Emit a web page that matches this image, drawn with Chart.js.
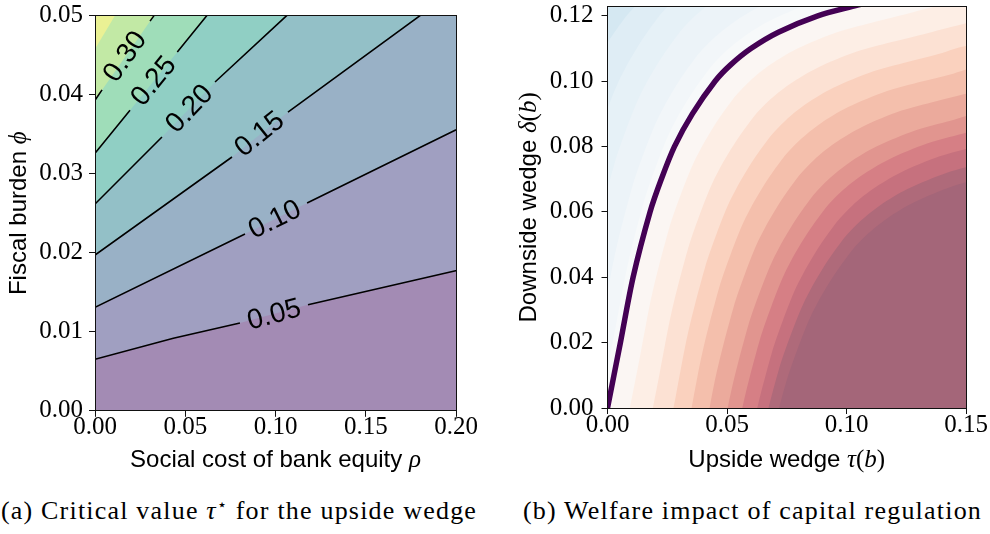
<!DOCTYPE html>
<html><head><meta charset="utf-8">
<script src="https://cdn.jsdelivr.net/npm/chart.js@4.4.1/dist/chart.umd.min.js"></script>
<style>
html,body{margin:0;padding:0;background:#fff;width:990px;height:534px;overflow:hidden;}
#ca{position:absolute;left:0;top:0;}
#cb{position:absolute;left:495px;top:0;}
.cap{position:absolute;top:495px;font-family:'Liberation Serif','DejaVu Serif',serif;font-size:26px;letter-spacing:1.2px;white-space:nowrap;color:#000;line-height:32px;text-align:center;}
.cap sup{font-size:0.6em;vertical-align:0.6em;line-height:0;}
#capA{left:0;width:478px;}
#capB{left:522px;width:461px;}
</style></head><body>
<canvas id="ca" width="490" height="480"></canvas>
<canvas id="cb" width="495" height="480"></canvas>
<div class="cap" id="capA">(a) Critical value <i>τ</i><sup>⋆</sup> for the upside wedge</div>
<div class="cap" id="capB">(b) Welfare impact of capital regulation</div>
<script>
// ---------------- Panel (a) data ----------------
const aXTicks = [0, 0.05, 0.10, 0.15, 0.20];
const aXTickLabels = ['0.00', '0.05', '0.10', '0.15', '0.20'];
const aYTicks = [0, 0.01, 0.02, 0.03, 0.04, 0.05];
const aYTickLabels = ['0.00', '0.01', '0.02', '0.03', '0.04', '0.05'];
const aLevelLabels = ['0.05', '0.10', '0.15', '0.20', '0.25', '0.30'];
// contour lines of tau* (rho, phi); null = gap where the inline label sits
const aLineRho = [
  [-0.005, 0, 0.0434, 0.0803, null, 0.1180, 0.1998, 0.205],
  [-0.005, 0, 0.0831, null, 0.1175, 0.1998, 0.205],
  [-0.005, 0, 0.0759, null, 0.1069, 0.1801, 0.1861],
  [-0.005, 0, 0.0371, null, 0.0665, 0.1062, 0.111],
  [-0.005, 0, 0.0194, null, 0.0456, 0.0620, 0.0656],
  [-0.005, 0, 0.0039, null, 0.0305, 0.0327, 0.0358]
];
const aLinePhi = [
  [0.00621, 0.00652, 0.00918, 0.01111, null, 0.01341, 0.01773, 0.0180],
  [0.01253, 0.01309, 0.02237, null, 0.02629, 0.03553, 0.0361],
  [0.01889, 0.01971, 0.03211, null, 0.0378, 0.05, 0.051],
  [0.02502, 0.02616, 0.03464, null, 0.0416, 0.05, 0.051],
  [0.03118, 0.03258, 0.03802, null, 0.04539, 0.05, 0.051],
  [0.03767, 0.0393, 0.0406, null, 0.0493, 0.05, 0.051]
];
// 0.35 level (filled boundary only, no line)
const aTopRho = [-0.005, 0, 0.0111, 0.0137];
const aTopPhi = [0.0439, 0.04578, 0.05, 0.051];
// inline label anchors
const aLabelRho = [0.0992, 0.0995, 0.0910, 0.0522, 0.0323, 0.0165];
const aLabelPhi = [0.01222, 0.02425, 0.03505, 0.03825, 0.04175, 0.04485];

// ---------------- Panel (b) data ----------------
const bXTicks = [0, 0.05, 0.10, 0.15];
const bXTickLabels = ['0.00', '0.05', '0.10', '0.15'];
const bYTicks = [0, 0.02, 0.04, 0.06, 0.08, 0.10, 0.12];
const bYTickLabels = ['0.00', '0.02', '0.04', '0.06', '0.08', '0.10', '0.12'];
// normalised welfare level (colormap position) of each boundary, 0.5 = zero welfare
const bLevels = [0.375, 0.40, 0.425, 0.45, 0.475, 0.50, 0.55, 0.60, 0.65, 0.70, 0.75, 0.80, 0.85, 0.90, 0.95, 1.00];
const bLevelTau = [
  [-0.0192, -0.0145, -0.009, -0.0015, 0.008, 0.0145, 0.023],
  [-0.0126, -0.0055, -0.0008, 0.0047, 0.0122, 0.0217, 0.0282, 0.0367],
  [-0.0094, -0.0041, 0.003, 0.0077, 0.0132, 0.0207, 0.0302, 0.0367, 0.0452, 0.0567],
  [-0.0073, -0.0019, 0.0034, 0.0105, 0.0152, 0.0207, 0.0282, 0.0377, 0.0442, 0.0527, 0.0642, 0.0807],
  [-0.0022, 0.0032, 0.0085, 0.0156, 0.0203, 0.0258, 0.0333, 0.0428, 0.0493, 0.0578, 0.0693, 0.0858, 0.1003],
  [0, 0.0054, 0.0107, 0.0178, 0.0225, 0.028, 0.0355, 0.045, 0.0515, 0.060, 0.0715, 0.088, 0.1025, 0.114, 0.13],
  [0.008, 0.0134, 0.0187, 0.0258, 0.0305, 0.036, 0.0435, 0.053, 0.0595, 0.068, 0.0795, 0.096, 0.1105, 0.122, 0.138, 0.163],
  [0.016, 0.0214, 0.0267, 0.0338, 0.0385, 0.044, 0.0515, 0.061, 0.0675, 0.076, 0.0875, 0.104, 0.1185, 0.130, 0.146, 0.171],
  [0.023, 0.0284, 0.0337, 0.0408, 0.0455, 0.051, 0.0585, 0.068, 0.0745, 0.083, 0.0945, 0.111, 0.1255, 0.137, 0.153],
  [0.029, 0.0344, 0.0397, 0.0468, 0.0515, 0.057, 0.0645, 0.074, 0.0805, 0.089, 0.1005, 0.117, 0.1315, 0.143, 0.159],
  [0.035, 0.0404, 0.0457, 0.0528, 0.0575, 0.063, 0.0705, 0.080, 0.0865, 0.095, 0.1065, 0.123, 0.1375, 0.149, 0.165],
  [0.041, 0.0464, 0.0517, 0.0588, 0.0635, 0.069, 0.0765, 0.086, 0.0925, 0.101, 0.1125, 0.129, 0.1435, 0.155],
  [0.046, 0.0514, 0.0567, 0.0638, 0.0685, 0.074, 0.0815, 0.091, 0.0975, 0.106, 0.1175, 0.134, 0.1485, 0.160],
  [0.051, 0.0564, 0.0617, 0.0688, 0.0735, 0.079, 0.0865, 0.096, 0.1025, 0.111, 0.1225, 0.139, 0.1535, 0.165],
  [0.054, 0.0594, 0.0647, 0.0718, 0.0765, 0.082, 0.0895, 0.099, 0.1055, 0.114, 0.1255, 0.142, 0.1565, 0.168],
  [0.057, 0.0624, 0.0677, 0.0748, 0.0795, 0.085, 0.0925, 0.102, 0.1085, 0.117, 0.1285, 0.145, 0.1595, 0.171]
];
const bLevelDelta = [
  [0.08, 0.09, 0.10, 0.11, 0.12, 0.125, 0.13],
  [0.06, 0.08, 0.09, 0.10, 0.11, 0.12, 0.125, 0.13],
  [0.035, 0.055, 0.075, 0.085, 0.095, 0.105, 0.115, 0.12, 0.125, 0.13],
  [0.008, 0.028, 0.048, 0.068, 0.078, 0.088, 0.098, 0.108, 0.113, 0.118, 0.123, 0.128],
  [0.004, 0.024, 0.044, 0.064, 0.074, 0.084, 0.094, 0.104, 0.109, 0.114, 0.119, 0.124, 0.1269],
  [0, 0.02, 0.04, 0.06, 0.07, 0.08, 0.09, 0.10, 0.105, 0.11, 0.115, 0.12, 0.1229, 0.125, 0.128],
  [-0.005, 0.015, 0.035, 0.055, 0.065, 0.075, 0.085, 0.095, 0.10, 0.105, 0.11, 0.115, 0.1179, 0.12, 0.123, 0.127],
  [-0.011, 0.009, 0.029, 0.049, 0.059, 0.069, 0.079, 0.089, 0.094, 0.099, 0.104, 0.109, 0.1119, 0.114, 0.117, 0.121],
  [-0.017, 0.003, 0.023, 0.043, 0.053, 0.063, 0.073, 0.083, 0.088, 0.093, 0.098, 0.103, 0.1059, 0.108, 0.111],
  [-0.023, -0.003, 0.017, 0.037, 0.047, 0.057, 0.067, 0.077, 0.082, 0.087, 0.092, 0.097, 0.0999, 0.102, 0.105],
  [-0.029, -0.009, 0.011, 0.031, 0.041, 0.051, 0.061, 0.071, 0.076, 0.081, 0.086, 0.091, 0.0939, 0.096, 0.099],
  [-0.035, -0.015, 0.005, 0.025, 0.035, 0.045, 0.055, 0.065, 0.070, 0.075, 0.080, 0.085, 0.0879, 0.090],
  [-0.039, -0.019, 0.001, 0.021, 0.031, 0.041, 0.051, 0.061, 0.066, 0.071, 0.076, 0.081, 0.0839, 0.086],
  [-0.043, -0.023, -0.003, 0.017, 0.027, 0.037, 0.047, 0.057, 0.062, 0.067, 0.072, 0.077, 0.0799, 0.082],
  [-0.048, -0.028, -0.008, 0.012, 0.022, 0.032, 0.042, 0.052, 0.057, 0.062, 0.067, 0.072, 0.0749, 0.077],
  [-0.052, -0.032, -0.012, 0.008, 0.018, 0.028, 0.038, 0.048, 0.053, 0.058, 0.063, 0.068, 0.0709, 0.073]
];
const bZeroIndex = 5;

// ---------------- styles ----------------
const SERIF = "'Liberation Serif', 'DejaVu Serif', serif";
const SANS = "'Liberation Sans', 'DejaVu Sans', sans-serif";
const F_WORD = `24px ${SANS}`;
const F_MATH = `italic 25px ${SERIF}`;
const F_UP = `25px ${SERIF}`;
const aBandColors = ['#a38bb4', '#a09fc1', '#99b1c6', '#93c0c7', '#90cfc4', '#9fddb9', '#c2e9a5', '#eaf194'];
const RDBU_R = [[0.0,[5,48,97]],[0.1,[33,102,172]],[0.2,[67,147,195]],[0.3,[146,197,222]],[0.4,[209,229,240]],
  [0.5,[247,247,247]],[0.6,[253,219,199]],[0.7,[244,165,130]],[0.8,[214,96,77]],[0.9,[178,24,43]],[1.0,[103,0,31]]];
function cmap(t, alpha) {
  t = Math.max(0, Math.min(1, t));
  let i = 0;
  while (i < RDBU_R.length - 2 && t > RDBU_R[i + 1][0]) i++;
  const [t0, c0] = RDBU_R[i], [t1, c1] = RDBU_R[i + 1];
  const f = (t - t0) / (t1 - t0);
  const c = c0.map((v, k) => v + f * (c1[k] - v));
  const o = c.map(v => Math.round(alpha * v + 255 * (1 - alpha)));
  return `rgb(${o[0]},${o[1]},${o[2]})`;
}

Chart.defaults.font.family = SERIF;
Chart.defaults.font.size = 25;
Chart.defaults.color = '#000';

function toPoints(xs, ys) {
  const p = [];
  for (let i = 0; i < xs.length; i++) p.push({x: xs[i] === null ? xs[i - 1] : xs[i], y: ys[i]});
  return p;
}
function cleanPoints(xs, ys) {
  const p = [];
  for (let i = 0; i < xs.length; i++) if (xs[i] !== null) p.push({x: xs[i], y: ys[i]});
  return p;
}
function polyAboveLeft(xs, ys) {
  const p = cleanPoints(xs, ys);
  const f = p[0], l = p[p.length - 1];
  p.push({x: 1, y: l.y}, {x: 1, y: 1}, {x: -1, y: 1}, {x: -1, y: f.y});
  return p;
}
function polyBelowRight(xs, ys) {
  const p = cleanPoints(xs, ys);
  const f = p[0], l = p[p.length - 1];
  p.push({x: 1, y: l.y}, {x: 1, y: -1}, {x: f.x, y: -1});
  return p;
}
const fullRect = [{x: -1, y: -1}, {x: 1, y: -1}, {x: 1, y: 1}, {x: -1, y: 1}];
function band(points, color, tension) {
  return {data: points, showLine: true, fill: 'shape', backgroundColor: color, borderColor: 'rgba(0,0,0,0)',
          borderWidth: 0, pointRadius: 0, tension: tension || 0, clip: 0};
}

function axis(o) {
  const horiz = o.pos === 'bottom' || o.pos === 'top';
  return {
    type: 'linear', axis: horiz ? 'x' : 'y', position: o.pos, min: o.min, max: o.max,
    afterBuildTicks: s => { s.ticks = o.ticks.map(v => ({value: v})); },
    afterFit: s => {
      if (horiz) s.height = o.size; else s.width = o.size;
      s.paddingLeft = 0; s.paddingRight = 0; s.paddingTop = 0; s.paddingBottom = 0;
    },
    ticks: {display: !!o.labels, callback: (v, i) => (o.labels ? o.labels[i] : ''), padding: o.pad || 0,
            autoSkip: false, maxRotation: 0, minRotation: 0, color: '#000', font: {family: SERIF, size: 25}},
    grid: {display: !!o.labels, drawOnChartArea: false, drawTicks: !!o.labels, tickLength: 6,
           tickColor: '#111', tickWidth: 1, color: '#111'},
    border: {display: true, color: '#111', width: 1, z: 1},
    title: {display: false}
  };
}

// axis titles: sans words + italic serif math
function drawParts(ctx, parts, cx, cy, rot) {
  ctx.save();
  ctx.translate(cx, cy);
  ctx.rotate(rot);
  ctx.textAlign = 'left';
  ctx.textBaseline = 'alphabetic';
  ctx.fillStyle = '#000';
  let w = 0;
  for (const p of parts) { ctx.font = p.f; w += ctx.measureText(p.t).width; }
  let x = -w / 2;
  for (const p of parts) { ctx.font = p.f; ctx.fillText(p.t, x, 0); x += ctx.measureText(p.t).width; }
  ctx.restore();
}
function titlePlugin(xParts, xBaseline, yParts, yBaseline) {
  return {
    id: 'mixedTitles',
    afterDraw(chart) {
      const a = chart.chartArea, ctx = chart.ctx;
      drawParts(ctx, xParts, (a.left + a.right) / 2, xBaseline, 0);
      drawParts(ctx, yParts, yBaseline, (a.top + a.bottom) / 2, -Math.PI / 2);
    }
  };
}

// ---------------- Chart (a) ----------------
const dsA = [];
dsA.push(band(fullRect, aBandColors[0]));
for (let k = 0; k < aLineRho.length; k++) dsA.push(band(polyAboveLeft(aLineRho[k], aLinePhi[k]), aBandColors[k + 1]));
dsA.push(band(polyAboveLeft(aTopRho, aTopPhi), aBandColors[7]));
for (let k = 0; k < aLineRho.length; k++) {
  dsA.push({data: toPoints(aLineRho[k], aLinePhi[k]), showLine: true, fill: false, borderColor: '#000',
            borderWidth: 1.6, pointRadius: 0, tension: 0, spanGaps: false});
}

const labelPluginA = {
  id: 'contourLabelsA',
  afterDatasetsDraw(chart) {
    const {ctx} = chart, xs = chart.scales.x, ys = chart.scales.y;
    ctx.save();
    ctx.font = `28px ${SANS}`;
    ctx.fillStyle = '#000';
    ctx.textAlign = 'center';
    ctx.textBaseline = 'middle';
    for (let k = 0; k < aLevelLabels.length; k++) {
      const r = aLineRho[k], f = aLinePhi[k], g = r.indexOf(null);
      const ang = Math.atan2(ys.getPixelForValue(f[g + 1]) - ys.getPixelForValue(f[g - 1]),
                             xs.getPixelForValue(r[g + 1]) - xs.getPixelForValue(r[g - 1]));
      ctx.save();
      ctx.translate(xs.getPixelForValue(aLabelRho[k]), ys.getPixelForValue(aLabelPhi[k]));
      ctx.rotate(ang);
      ctx.fillText(aLevelLabels[k], 0, 1);
      ctx.restore();
    }
    ctx.restore();
  }
};

new Chart(document.getElementById('ca'), {
  type: 'scatter',
  data: {datasets: dsA.reverse()},
  options: {
    responsive: false, animation: false, events: [], devicePixelRatio: 1,
    layout: {padding: {left: 0, top: 15.6, right: 34, bottom: 0}},
    plugins: {legend: {display: false}, tooltip: {enabled: false}},
    elements: {point: {radius: 0}, line: {capBezierPoints: false}},
    scales: {
      x: axis({pos: 'bottom', min: 0, max: 0.2, ticks: aXTicks, labels: aXTickLabels, size: 480 - 410.8, pad: -4}),
      y: axis({pos: 'left', min: 0, max: 0.05, ticks: aYTicks, labels: aYTickLabels, size: 95, pad: 6}),
      x2: axis({pos: 'top', min: 0, max: 0.2, ticks: aXTicks, size: 0}),
      y2: axis({pos: 'right', min: 0, max: 0.05, ticks: aYTicks, size: 0})
    }
  },
  plugins: [labelPluginA,
    titlePlugin([{t: 'Social cost of bank equity ', f: F_WORD}, {t: 'ρ', f: F_MATH}], 467,
                [{t: 'Fiscal burden ', f: F_WORD}, {t: 'ϕ', f: F_MATH}], 26)]
});

// ---------------- Chart (b) ----------------
const dsB = [];
dsB.push(band(fullRect, cmap(bLevels[0] - 0.0125, 0.6)));
for (let k = 0; k < bLevels.length; k++) {
  const c = k < bLevels.length - 1 ? (bLevels[k] + bLevels[k + 1]) / 2 : bLevels[k];
  dsB.push(band(polyBelowRight(bLevelTau[k], bLevelDelta[k]), cmap(c, 0.6), 0.3));
}
dsB.push({data: toPoints(bLevelTau[bZeroIndex], bLevelDelta[bZeroIndex]), showLine: true, fill: false,
          borderColor: '#440154', borderWidth: 5.5, pointRadius: 0, tension: 0.3, clip: 0});

new Chart(document.getElementById('cb'), {
  type: 'scatter',
  data: {datasets: dsB.reverse()},
  options: {
    responsive: false, animation: false, events: [], devicePixelRatio: 1,
    layout: {padding: {left: 0, top: 6.7, right: 24, bottom: 0}},
    plugins: {legend: {display: false}, tooltip: {enabled: false}},
    elements: {point: {radius: 0}, line: {capBezierPoints: false}},
    scales: {
      x: axis({pos: 'bottom', min: 0, max: 0.15, ticks: bXTicks, labels: bXTickLabels, size: 480 - 408, pad: -4}),
      y: axis({pos: 'left', min: 0, max: 0.1228, ticks: bYTicks, labels: bYTickLabels, size: 112.5, pad: 8}),
      x2: axis({pos: 'top', min: 0, max: 0.15, ticks: bXTicks, size: 0}),
      y2: axis({pos: 'right', min: 0, max: 0.1228, ticks: bYTicks, size: 0})
    }
  },
  plugins: [titlePlugin([{t: 'Upside wedge ', f: F_WORD}, {t: 'τ', f: F_MATH}, {t: '(', f: F_UP}, {t: 'b', f: F_MATH}, {t: ')', f: F_UP}], 467,
                        [{t: 'Downside wedge ', f: F_WORD}, {t: 'δ', f: F_MATH}, {t: '(', f: F_UP}, {t: 'b', f: F_MATH}, {t: ')', f: F_UP}], 41)]
});
</script>
</body></html>
